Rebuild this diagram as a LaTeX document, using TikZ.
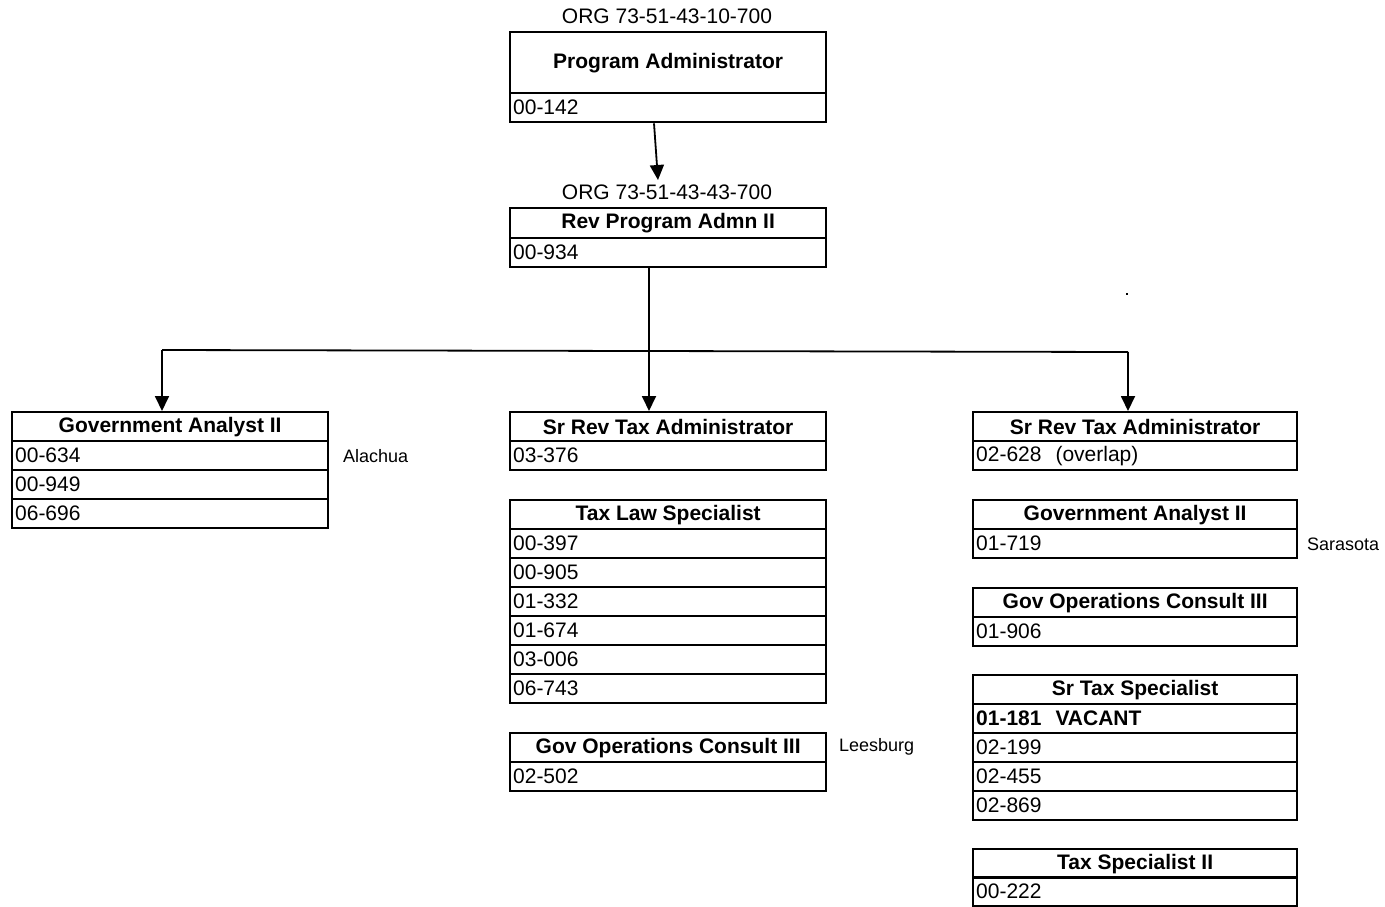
\documentclass[tikz,border=0pt]{standalone}
\usepackage{fontspec}
\setmainfont{Liberation Sans}
\usetikzlibrary{arrows.meta}
\begin{document}
\begin{tikzpicture}[x=1pt,y=-1pt,
  box/.style={draw, line width=2.3pt, anchor=north west, inner sep=0pt,
    minimum height=29pt, font=\fontsize{21}{24}\selectfont},
  headL/.style={box, minimum width=316pt, font=\fontsize{21}{24}\selectfont\bfseries},
  headR/.style={box, minimum width=324pt, font=\fontsize{21}{24}\selectfont\bfseries},
  idL/.style={box, align=left, inner xsep=3pt, text width=310pt},
  idR/.style={box, align=left, inner xsep=3pt, text width=318pt},
  org/.style={font=\fontsize{21}{24}\selectfont, inner sep=0pt},
  place/.style={font=\fontsize{18}{20}\selectfont, anchor=west, inner sep=0pt},
  arr/.style={line width=1.8pt, -{Triangle[length=15pt,width=14pt]}},
  link/.style={line width=1.8pt}]
\useasboundingbox (0,0) rectangle (1385,906);

% top level
\node[org] (org1) at (667,16) {ORG 73-51-43-10-700};
\node[headL, minimum height=61pt] (pa) at (509,31) {Program Administrator};
\node[idL] (paid) at (509,92) {00-142};

\node[org] (org2) at (667,192) {ORG 73-51-43-43-700};
\node[headL, minimum height=30pt] (rev) at (509,207) {Rev Program Admn II};
\node[idL] (revid) at (509,237) {00-934};

% left column
\node[headL] (gaL) at (11,411) {Government Analyst II};
\node[idL] (gaL1) at (11,440) {00-634};
\node[idL] (gaL2) at (11,469) {00-949};
\node[idL] (gaL3) at (11,498) {06-696};
\node[place] (alachua) at (343,456) {Alachua};

% middle column
\node[headL] (srM) at (509,411) {Sr Rev Tax Administrator};
\node[idL] (srM1) at (509,440) {03-376};

\node[headL] (tl) at (509,499) {Tax Law Specialist};
\node[idL] (tl1) at (509,528) {00-397};
\node[idL] (tl2) at (509,557) {00-905};
\node[idL] (tl3) at (509,586) {01-332};
\node[idL] (tl4) at (509,615) {01-674};
\node[idL] (tl5) at (509,644) {03-006};
\node[idL] (tl6) at (509,673) {06-743};

\node[headL] (goM) at (509,732) {Gov Operations Consult III};
\node[idL] (goM1) at (509,761) {02-502};
\node[place] (leesburg) at (839,747) {Leesburg};

% right column
\node[headR] (srR) at (972,411) {Sr Rev Tax Administrator};
\node[idR] (srR1) at (972,440) {02-628\ \ (overlap)};

\node[headR] (gaR) at (972,499) {Government Analyst II};
\node[idR] (gaR1) at (972,528) {01-719};
\node[place] (sarasota) at (1307,544) {Sarasota};

\node[headR] (goR) at (972,587) {Gov Operations Consult III};
\node[idR] (goR1) at (972,616) {01-906};

\node[headR] (st) at (972,674) {Sr Tax Specialist};
\node[idR, font=\fontsize{21}{24}\selectfont\bfseries] (st1) at (972,703) {01-181\ \ VACANT};
\node[idR] (st2) at (972,732) {02-199};
\node[idR] (st3) at (972,761) {02-455};
\node[idR] (st4) at (972,790) {02-869};

\node[headR] (ts) at (972,848) {Tax Specialist II};
\node[idR] (ts1) at (972,876) {00-222};

% stray mark
\fill (1126,293) rectangle (1128,295);

% connectors
\coordinate (a1) at (658,180);
\draw[arr] ([xshift=145pt]paid.south west) -- (a1);
\draw[arr] ([xshift=140pt]revid.south west) -- ([xshift=140pt]srM.north west);
\coordinate (jL) at (162,350);
\coordinate (jR) at (1128,352);
\draw[link] (jL) -- (jR);
\draw[arr] (jL) -- (jL |- gaL.north);
\draw[arr] (jR) -- (jR |- srR.north);
\end{tikzpicture}
\end{document}
